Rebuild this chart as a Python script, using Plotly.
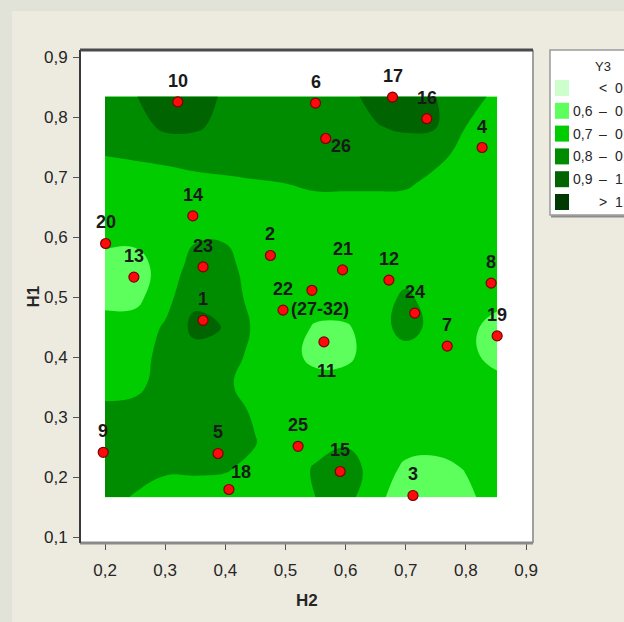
import plotly.graph_objects as go

# ---- design runs: label, H2 (x) and H1 (y) ----
run_labels = ["10", "6", "17", "16", "26", "4", "14", "20", "13", "23", "2", "22",
              "(27-32)", "21", "12", "24", "8", "1", "7", "19", "11", "9", "5",
              "25", "15", "18", "3"]
h2_values = [0.321, 0.550, 0.678, 0.735, 0.567, 0.827, 0.346, 0.201, 0.248, 0.363,
             0.475, 0.496, 0.544, 0.595, 0.672, 0.715, 0.842, 0.363, 0.769, 0.852,
             0.564, 0.197, 0.388, 0.521, 0.591, 0.406, 0.712]
h1_values = [0.826, 0.824, 0.834, 0.798, 0.765, 0.750, 0.636, 0.590, 0.534, 0.551,
             0.570, 0.479, 0.512, 0.546, 0.529, 0.474, 0.524, 0.462, 0.419, 0.436,
             0.426, 0.242, 0.240, 0.252, 0.210, 0.180, 0.170]

# ---- Y3 response surface on an H2 x H1 grid ----
grid_h2 = [0.20, 0.25, 0.30, 0.35, 0.40, 0.45, 0.50, 0.55, 0.60, 0.65, 0.70, 0.75, 0.80, 0.852]
grid_h1 = [0.167, 0.215, 0.26, 0.31, 0.355, 0.405, 0.45, 0.50, 0.55, 0.595, 0.645, 0.69,
           0.74, 0.785, 0.835]
y3_grid = [
    [0.84, 0.79, 0.74, 0.74, 0.745, 0.75, 0.75, 0.80, 0.84, 0.72, 0.66, 0.65, 0.68, 0.74],
    [0.86, 0.85, 0.82, 0.82, 0.81, 0.77, 0.75, 0.81, 0.85, 0.76, 0.68, 0.67, 0.705, 0.75],
    [0.85, 0.86, 0.86, 0.86, 0.85, 0.805, 0.75, 0.76, 0.785, 0.75, 0.74, 0.735, 0.75, 0.75],
    [0.825, 0.83, 0.85, 0.86, 0.86, 0.78, 0.75, 0.75, 0.75, 0.75, 0.75, 0.75, 0.75, 0.75],
    [0.76, 0.775, 0.84, 0.86, 0.82, 0.75, 0.75, 0.75, 0.75, 0.75, 0.75, 0.75, 0.75, 0.75],
    [0.75, 0.76, 0.83, 0.86, 0.85, 0.77, 0.75, 0.66, 0.67, 0.76, 0.75, 0.75, 0.745, 0.64],
    [0.74, 0.75, 0.81, 0.93, 0.895, 0.78, 0.75, 0.69, 0.69, 0.74, 0.85, 0.76, 0.745, 0.64],
    [0.67, 0.67, 0.77, 0.875, 0.86, 0.76, 0.75, 0.75, 0.75, 0.75, 0.82, 0.75, 0.75, 0.75],
    [0.66, 0.66, 0.74, 0.84, 0.84, 0.74, 0.75, 0.75, 0.75, 0.75, 0.75, 0.75, 0.75, 0.75],
    [0.72, 0.715, 0.75, 0.795, 0.795, 0.75, 0.75, 0.75, 0.75, 0.75, 0.75, 0.75, 0.75, 0.75],
    [0.745, 0.745, 0.75, 0.75, 0.75, 0.75, 0.75, 0.75, 0.75, 0.75, 0.75, 0.75, 0.75, 0.75],
    [0.745, 0.752, 0.755, 0.773, 0.783, 0.792, 0.80, 0.82, 0.82, 0.82, 0.815, 0.77, 0.76, 0.76],
    [0.805, 0.815, 0.83, 0.84, 0.845, 0.85, 0.85, 0.85, 0.85, 0.85, 0.85, 0.83, 0.77, 0.76],
    [0.85, 0.86, 0.92, 0.915, 0.87, 0.86, 0.855, 0.855, 0.86, 0.895, 0.915, 0.905, 0.80, 0.77],
    [0.85, 0.895, 0.96, 0.96, 0.88, 0.85, 0.85, 0.86, 0.88, 0.923, 0.95, 0.90, 0.82, 0.79],
]

# ---- contour classes ----
level_lower = ["", "0,6", "0,7", "0,8", "0,9", ""]
level_sign = ["<", "\u2013", "\u2013", "\u2013", "\u2013", ">"]
level_upper = ["0,6", "0,7", "0,8", "0,9", "1,0", "1,0"]
level_colors = ["#ccffcc", "#5cff5c", "#00cc00", "#008c00", "#006400", "#003a00"]

# ---- page geometry (pixels) ----
W, H = 624, 622
ML, MR, MT, MB = 80, 91, 50, 79
PW, PH = W - ML - MR, H - MT - MB


def px_x(px):
    return (px - ML) / PW


def px_y(py):
    return (H - MB - py) / PH


FONT = "Liberation Sans, Arial, sans-serif"
INK = "#262626"

fig = go.Figure()

colorscale = [[i / (len(level_colors) - 1), c] for i, c in enumerate(level_colors)]
fig.add_trace(go.Contour(
    x=grid_h2, y=grid_h1, z=y3_grid,
    contours=dict(start=0.6, end=1.0, size=0.1, coloring="fill", showlines=False),
    colorscale=colorscale, showscale=False,
    line=dict(width=0, smoothing=1.3),
    hoverinfo="skip",
))

fig.add_trace(go.Scatter(
    x=h2_values, y=h1_values, mode="markers",
    marker=dict(size=10, color="#ff0a0a", line=dict(color="#7a0000", width=1.2)),
    hoverinfo="skip", showlegend=False,
))

# run-number labels (pixel offsets from the marker)
label_offsets = {"26": (15, -7), "(27-32)": (8, -19), "11": (3, -29), "18": (12, 17)}
annotations = []
for lab, xv, yv in zip(run_labels, h2_values, h1_values):
    dx, dy = label_offsets.get(lab, (0, 21))
    annotations.append(dict(
        x=xv, y=yv, xref="x", yref="y", text=lab, showarrow=False,
        xanchor="center", yanchor="middle", xshift=dx, yshift=dy,
        font=dict(family=FONT, size=18, color="#1a1a1a", weight="bold"),
    ))

# axis titles
annotations.append(dict(x=0.5, y=px_y(600), xref="paper", yref="paper", text="H2",
                        xanchor="center", yanchor="middle", showarrow=False,
                        font=dict(family=FONT, size=17, color=INK, weight="bold")))
annotations.append(dict(x=px_x(33), y=0.5, xref="paper", yref="paper", text="H1",
                        xanchor="center", yanchor="middle", textangle=-90, showarrow=False,
                        font=dict(family=FONT, size=17, color=INK, weight="bold")))

shapes = []
# textured page edge
shapes.append(dict(type="rect", xref="paper", yref="paper", x0=px_x(0), x1=px_x(12),
                   y0=px_y(H), y1=px_y(0), fillcolor="#e1e2d8", line=dict(width=0), layer="below"))
shapes.append(dict(type="rect", xref="paper", yref="paper", x0=px_x(0), x1=px_x(W),
                   y0=px_y(11), y1=px_y(0), fillcolor="#e1e2d8", line=dict(width=0), layer="below"))

# plot frame
shapes.append(dict(type="line", xref="paper", yref="paper", x0=1, x1=1, y0=0, y1=1,
                   line=dict(color="#a0a0a0", width=2)))
shapes.append(dict(type="line", xref="paper", yref="paper", x0=0, x1=1, y0=0, y1=0,
                   line=dict(color="#8a8a8a", width=3)))
shapes.append(dict(type="line", xref="paper", yref="paper", x0=0, x1=0, y0=0, y1=1,
                   line=dict(color="#3a3a3a", width=2)))
shapes.append(dict(type="line", xref="paper", yref="paper", x0=0, x1=1, y0=1, y1=1,
                   line=dict(color="#4a4a4a", width=3)))

# legend box
shapes.append(dict(type="rect", xref="paper", yref="paper", x0=px_x(550), x1=px_x(720),
                   y0=px_y(215), y1=px_y(50), fillcolor="white",
                   line=dict(color="#9a9a9a", width=1.5)))
shapes.append(dict(type="line", xref="paper", yref="paper", x0=px_x(551), x1=px_x(720),
                   y0=px_y(216.5), y1=px_y(216.5), line=dict(color="#8c8c8c", width=2)))
annotations.append(dict(x=px_x(603), y=px_y(67), xref="paper", yref="paper", text="Y3",
                        xanchor="center", yanchor="middle", showarrow=False,
                        font=dict(family=FONT, size=13, color=INK)))
for i, col in enumerate(level_colors):
    cy = 88 + 22.8 * i
    shapes.append(dict(type="rect", xref="paper", yref="paper",
                       x0=px_x(555), x1=px_x(569), y0=px_y(cy + 8), y1=px_y(cy - 8),
                       fillcolor=col, line=dict(width=0)))
    lf = dict(family=FONT, size=14, color=INK)
    if level_lower[i]:
        annotations.append(dict(x=px_x(595), y=px_y(cy), xref="paper", yref="paper",
                                text=level_lower[i], xanchor="right", yanchor="middle",
                                showarrow=False, font=lf))
    annotations.append(dict(x=px_x(603), y=px_y(cy), xref="paper", yref="paper",
                            text=level_sign[i], xanchor="center", yanchor="middle",
                            showarrow=False, font=lf))
    annotations.append(dict(x=px_x(613), y=px_y(cy), xref="paper", yref="paper",
                            text=level_upper[i], xanchor="left", yanchor="middle",
                            showarrow=False, font=lf))

axis_common = dict(
    showgrid=False, zeroline=False, showline=False,
    ticks="outside", ticklen=6, tickwidth=1, tickcolor="#555555",
    tickformat=".1f", dtick=0.1,
    tickfont=dict(family=FONT, size=17, color=INK),
)

fig.update_layout(
    width=W, height=H,
    margin=dict(l=ML, r=MR, t=MT, b=MB, pad=0),
    paper_bgcolor="#edeae0", plot_bgcolor="white",
    separators=",.",
    showlegend=False,
    xaxis=dict(range=[0.1584, 0.9116], tick0=0.2, ticklabelstandoff=6, **axis_common),
    yaxis=dict(range=[0.0908, 0.9125], tick0=0.1, ticklabelstandoff=2, **axis_common),
    shapes=shapes,
    annotations=annotations,
)

fig.write_html("out.html")
